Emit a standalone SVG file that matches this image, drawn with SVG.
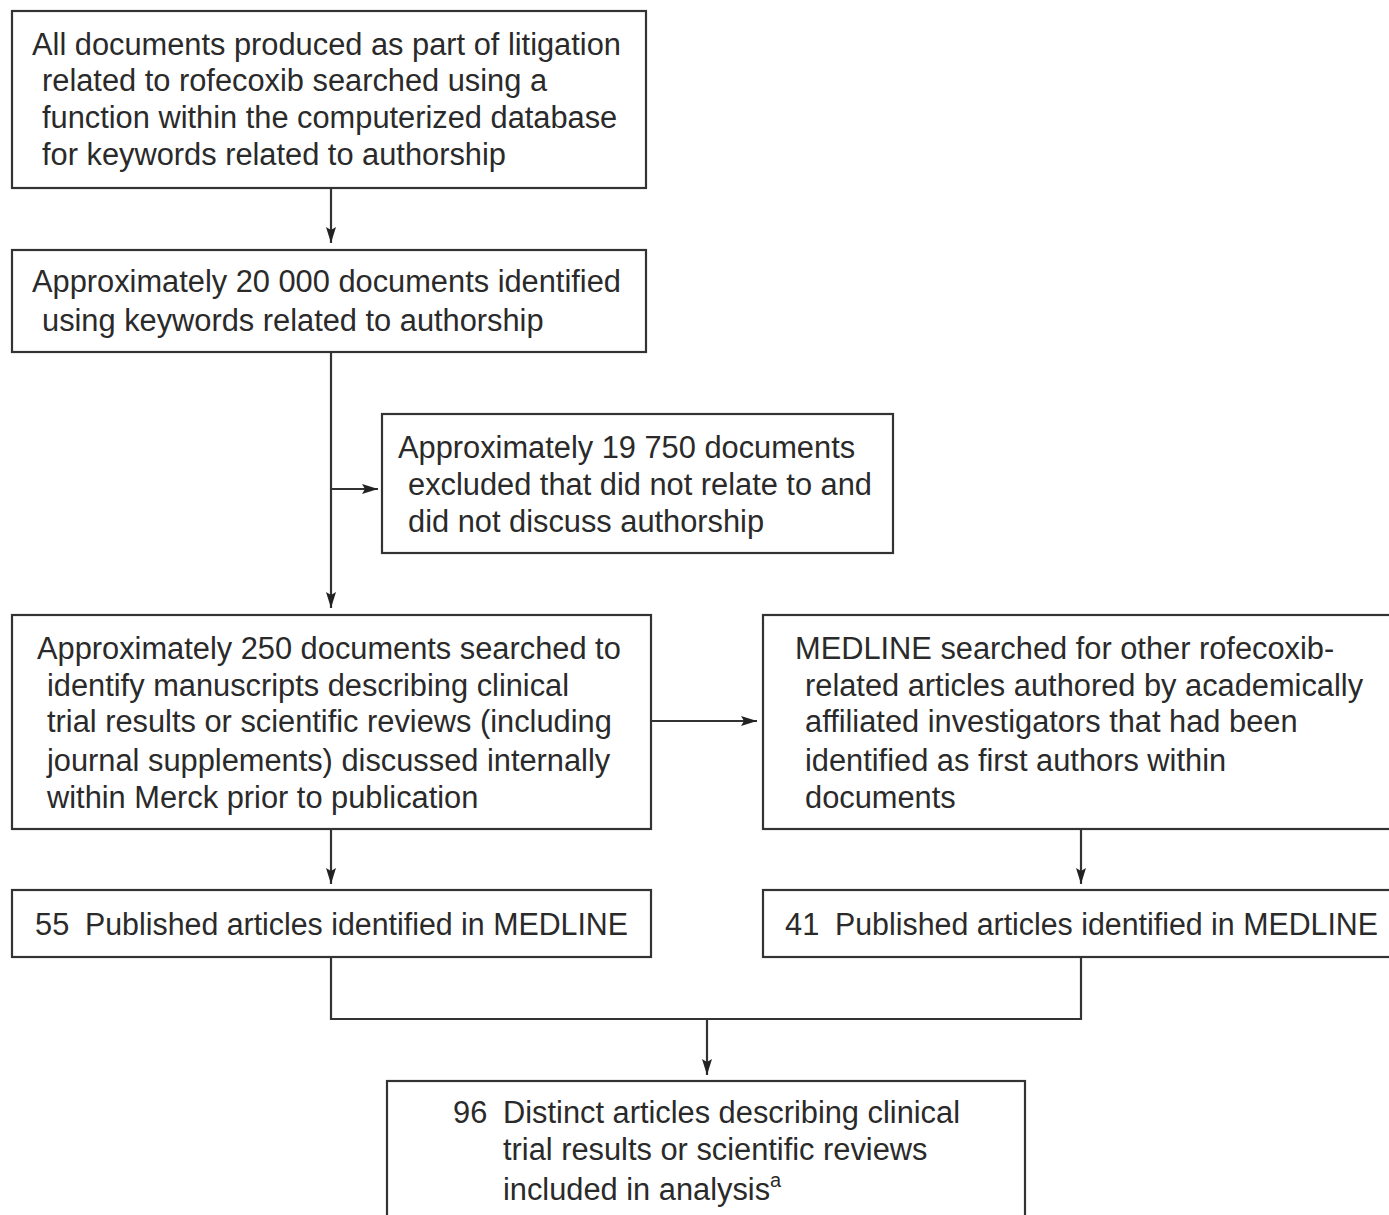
<svg xmlns="http://www.w3.org/2000/svg" width="1389" height="1215" viewBox="0 0 1389 1215">
<style>
.box{fill:#fff;stroke:#333;stroke-width:2.2}
.t{font-family:"Liberation Sans",Arial,sans-serif;font-size:30.8px;fill:#2a2a2a}
.c{fill:none;stroke:#333;stroke-width:2.2}
</style>
<defs>
<marker id="av" viewBox="0 0 16 10" refX="16" refY="5" markerWidth="16" markerHeight="10" markerUnits="userSpaceOnUse" orient="auto">
<path d="M0,0 L16,5 L0,10 L3,5 Z" fill="#222"/>
</marker>
</defs>
<rect width="1389" height="1215" fill="#fff"/>
<g id="connectors">
<path class="c" d="M331,188 V243" marker-end="url(#av)"/>
<path class="c" d="M331,352 V608" marker-end="url(#av)"/>
<path class="c" d="M331,489 H378" marker-end="url(#av)"/>
<path class="c" d="M651,721 H757" marker-end="url(#av)"/>
<path class="c" d="M331,829 V884" marker-end="url(#av)"/>
<path class="c" d="M1081,829 V884" marker-end="url(#av)"/>
<path class="c" d="M331,957 V1019 H1081 V957"/>
<path class="c" d="M707,1019 V1075" marker-end="url(#av)"/>
</g>
<g id="n1">
<rect class="box" x="12" y="11" width="634" height="177"/>
<text class="t" x="32" y="55">All documents produced as part of litigation</text>
<text class="t" x="42" y="91">related to rofecoxib searched using a</text>
<text class="t" x="42" y="128">function within the computerized database</text>
<text class="t" x="42" y="165">for keywords related to authorship</text>
</g>
<g id="n2">
<rect class="box" x="12" y="250" width="634" height="102"/>
<text class="t" x="32" y="292">Approximately 20 000 documents identified</text>
<text class="t" x="42" y="331">using keywords related to authorship</text>
</g>
<g id="n3">
<rect class="box" x="382" y="414" width="511" height="139"/>
<text class="t" x="398" y="458">Approximately 19 750 documents</text>
<text class="t" x="408" y="495">excluded that did not relate to and</text>
<text class="t" x="408" y="532">did not discuss authorship</text>
</g>
<g id="n4">
<rect class="box" x="12" y="615" width="639" height="214"/>
<text class="t" x="37" y="659">Approximately 250 documents searched to</text>
<text class="t" x="47" y="696">identify manuscripts describing clinical</text>
<text class="t" x="47" y="732">trial results or scientific reviews (including</text>
<text class="t" x="47" y="771">journal supplements) discussed internally</text>
<text class="t" x="47" y="808">within Merck prior to publication</text>
</g>
<g id="n5">
<rect class="box" x="763" y="615" width="640" height="214"/>
<text class="t" x="795" y="659">MEDLINE searched for other rofecoxib-</text>
<text class="t" x="805" y="696">related articles authored by academically</text>
<text class="t" x="805" y="732">affiliated investigators that had been</text>
<text class="t" x="805" y="771">identified as first authors within</text>
<text class="t" x="805" y="808">documents</text>
</g>
<g id="n6">
<rect class="box" x="12" y="890" width="639" height="67"/>
<text class="t" x="35" y="935">55</text>
<text class="t" x="85" y="935" textLength="543" lengthAdjust="spacingAndGlyphs">Published articles identified in MEDLINE</text>
</g>
<g id="n7">
<rect class="box" x="763" y="890" width="640" height="67"/>
<text class="t" x="785" y="935">41</text>
<text class="t" x="835" y="935" textLength="543" lengthAdjust="spacingAndGlyphs">Published articles identified in MEDLINE</text>
</g>
<g id="n8">
<rect class="box" x="387" y="1081" width="638" height="150"/>
<text class="t" x="453" y="1123">96</text>
<text class="t" x="503" y="1123">Distinct articles describing clinical</text>
<text class="t" x="503" y="1160">trial results or scientific reviews</text>
<text class="t" x="503" y="1200">included in analysis<tspan font-size="20" dy="-13">a</tspan></text>
</g>
</svg>
